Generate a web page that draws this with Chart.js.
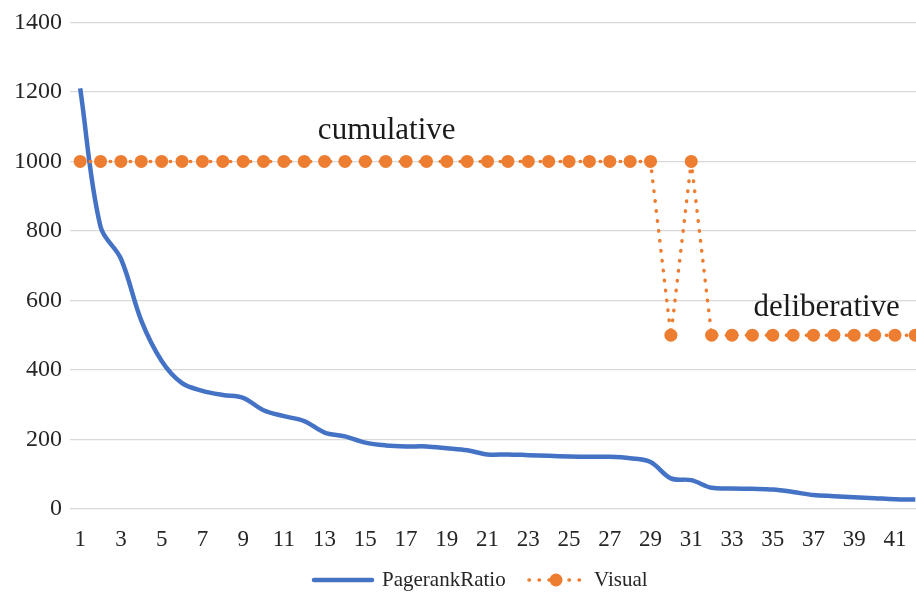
<!DOCTYPE html>
<html>
<head>
<meta charset="utf-8">
<script src="https://cdn.jsdelivr.net/npm/chart.js@4"></script>
<style>
  html, body { margin: 0; padding: 0; background: #fff; overflow: hidden; }
  #wrap { width: 932px; height: 595px; }
</style>
</head>
<body>
<div id="wrap"><canvas id="myChart"></canvas></div>
<script>
// categories 1..42
const categories = ['1','2','3','4','5','6','7','8','9','10','11','12','13','14','15','16','17','18','19','20','21',
  '22','23','24','25','26','27','28','29','30','31','32','33','34','35','36','37','38','39','40','41','42'];

const pagerankRatio = [1210, 812, 720, 542, 426, 362, 340, 328, 320, 284, 267, 253, 220, 209, 191, 183, 180, 180, 175, 169, 157,
  157, 155, 153, 151, 150, 150, 146, 135, 88, 83, 61, 59, 58, 56, 49, 40, 37, 34, 31, 28, 27];

const visual = [1000, 1000, 1000, 1000, 1000, 1000, 1000, 1000, 1000, 1000, 1000, 1000, 1000, 1000, 1000, 1000, 1000, 1000, 1000, 1000, 1000,
  1000, 1000, 1000, 1000, 1000, 1000, 1000, 1000, 500, 1000, 500, 500, 500, 500, 500, 500, 500, 500, 500, 500, 500];

const yTicks = [0, 200, 400, 600, 800, 1000, 1200, 1400];

// text notes placed in data space: [category index, value, text]
const notes = [
  [15.05, 1088, 'cumulative'],
  [36.65, 578, 'deliberative']
];

const BLUE = '#4472C4';
const ORANGE = '#ED7D31';
const FONT = '"Liberation Serif", "Times New Roman", serif';

const notesPlugin = {
  id: 'notes',
  afterDatasetsDraw(chart) {
    const { ctx, scales } = chart;
    ctx.save();
    ctx.font = '31px ' + FONT;
    ctx.fillStyle = '#1a1a1a';
    ctx.textAlign = 'center';
    ctx.textBaseline = 'middle';
    notes.forEach(n => {
      ctx.fillText(n[2], scales.x.getPixelForValue(n[0]), scales.y.getPixelForValue(n[1]));
    });
    ctx.restore();
  }
};

// legend drawn by hand so the line samples look like the original
const legendPlugin = {
  id: 'customLegend',
  afterDraw(chart) {
    const ctx = chart.ctx;
    const y = 580;
    ctx.save();
    ctx.font = '21px ' + FONT;
    ctx.fillStyle = '#262626';
    ctx.textBaseline = 'middle';

    ctx.strokeStyle = BLUE;
    ctx.lineWidth = 4.5;
    ctx.lineCap = 'round';
    ctx.beginPath();
    ctx.moveTo(314, y);
    ctx.lineTo(372, y);
    ctx.stroke();
    ctx.fillText('PagerankRatio', 382, y);

    ctx.strokeStyle = ORANGE;
    ctx.lineWidth = 3.5;
    ctx.setLineDash([0.5, 9.5]);
    ctx.beginPath();
    ctx.moveTo(529, y);
    ctx.lineTo(584, y);
    ctx.stroke();
    ctx.setLineDash([]);
    ctx.fillStyle = ORANGE;
    ctx.beginPath();
    ctx.arc(556, y, 6.5, 0, Math.PI * 2);
    ctx.fill();
    ctx.fillStyle = '#262626';
    ctx.fillText('Visual', 594, y);
    ctx.restore();
  }
};

const ctx = document.getElementById('myChart');
new Chart(ctx, {
  type: 'line',
  data: {
    labels: categories,
    datasets: [
      {
        label: 'PagerankRatio',
        data: pagerankRatio,
        borderColor: BLUE,
        backgroundColor: BLUE,
        borderWidth: 4.5,
        tension: 0.35,
        pointRadius: 0,
        order: 2
      },
      {
        label: 'Visual',
        data: visual,
        borderColor: ORANGE,
        backgroundColor: ORANGE,
        borderWidth: 3.5,
        borderDash: [0.5, 9.5],
        borderCapStyle: 'round',
        borderJoinStyle: 'round',
        tension: 0,
        pointRadius: 6.5,
        pointStyle: 'circle',
        pointBorderWidth: 0,
        pointBackgroundColor: ORANGE,
        order: 1
      }
    ]
  },
  options: {
    responsive: true,
    maintainAspectRatio: false,
    animation: false,
    layout: { padding: { top: 18, right: 3.5, left: 0, bottom: 0 } },
    plugins: {
      legend: { display: false },
      tooltip: { enabled: false }
    },
    scales: {
      x: {
        offset: true,
        grid: { display: false },
        border: { display: false },
        ticks: {
          autoSkip: false,
          maxRotation: 0,
          padding: 9,
          color: '#262626',
          font: { family: FONT, size: 23 },
          callback: function (v, i) { return i % 2 === 0 ? this.getLabelForValue(v) : ''; }
        },
        afterFit(scale) { scale.height = 86; }
      },
      y: {
        min: 0,
        max: 1400,
        afterBuildTicks(scale) { scale.ticks = yTicks.map(v => ({ value: v })); },
        grid: { color: '#d9d9d9', lineWidth: 1.3, drawTicks: false },
        border: { display: false },
        ticks: {
          padding: 8,
          color: '#262626',
          font: { family: FONT, size: 24 },
          callback: v => String(v)
        },
        afterFit(scale) { scale.width = 70; }
      }
    }
  },
  plugins: [notesPlugin, legendPlugin]
});
</script>
</body>
</html>
